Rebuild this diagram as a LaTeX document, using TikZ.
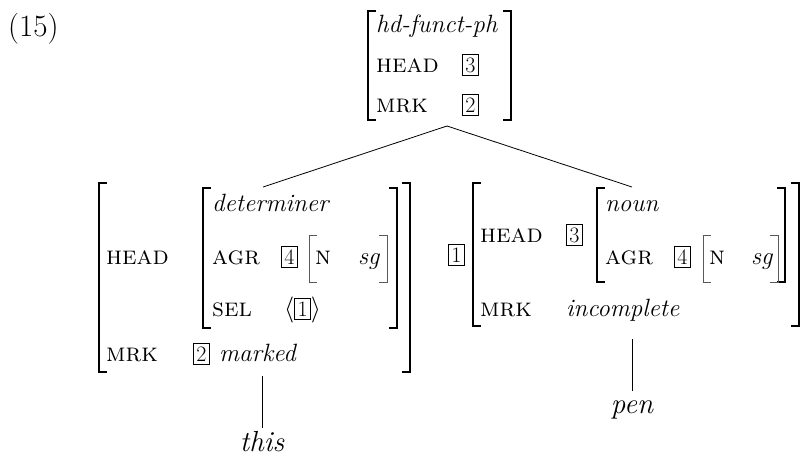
\documentclass[tikz,border=0pt]{standalone}
\usepackage{fix-cm}
\usepackage{fontspec}
\usetikzlibrary{positioning, calc}

% boxed tags and bracket helpers
\newcommand{\tagbox}[1]{{\setlength{\fboxsep}{2.5pt}\setlength{\fboxrule}{0.7pt}\fbox{\fontsize{22}{22}\selectfont #1}}}
\newcommand{\openbr}[4][brk]{\draw[#1] (#2,#3) ++(8,0) -- ++(-8,0) -- (#2,#4) -- ++(8,0);}
\newcommand{\closebr}[4][brk]{\draw[#1] (#2,#3) ++(-8,0) -- ++(8,0) -- (#2,#4) -- ++(-8,0);}

\tikzset{
    txt/.style={anchor=base west, inner sep=0pt, font=\fontsize{26}{30}\selectfont},
    val/.style={txt, font=\fontsize{25}{30}\selectfont\itshape},
    attr/.style={txt, font=\fontsize{26}{30}\selectfont\scshape},
    leaf/.style={anchor=base, inner sep=0pt, font=\fontsize{29}{34}\selectfont\itshape},
    brk/.style={line width=1.5pt},
    thinbrk/.style={line width=0.9pt, draw=black!65},
    branch/.style={line width=0.8pt}
}

\begin{document}
\begin{tikzpicture}[x=1pt, y=-1pt]
    \useasboundingbox (0,0) rectangle (801,459);

    % Example number
    \node[txt, font=\fontsize{31}{36}\selectfont] (exnum) at (8,36) {(15)};

    % Mother
    \node[val] (phrase) at (376,32) {hd-funct-ph};
    \node[attr] (mhead) at (376,72) {head};
    \node[txt] (mtag3) at (462,72) {\tagbox{3}};
    \node[attr] (mmrk) at (376,112) {mrk};
    \node[txt] (mtag2) at (462,112) {\tagbox{2}};
    \openbr{368}{11}{120}
    \closebr{511}{11}{120}
    \coordinate (mother) at (447,126);

    % Functor daughter
    \node[attr] (lhead) at (106,264) {head};
    \node[val] (det) at (212,211) {determiner};
    \node[attr] (lagr) at (212,264) {agr};
    \node[txt] (ltag4) at (281,264) {\tagbox{4}};
    \node[attr] (ln) at (315,264) {n};
    \node[val] (lsg) at (358,264) {sg};
    \node[attr] (lsel) at (212,316) {sel};
    \node[txt] (lsel1) at (284,316) {$\langle$\tagbox{1}$\rangle$};
    \node[attr] (lmrk) at (106,361) {mrk};
    \node[txt] (ltag2) at (193,361) {\tagbox{2}};
    \node[val] (marked) at (219,361) {marked};
    \openbr{99}{183}{372}
    \closebr{410}{183}{372}
    \openbr{203}{188}{328}
    \closebr{397}{188}{328}
    \openbr[thinbrk]{309}{235}{282}
    \closebr[thinbrk]{387}{235}{282}
    \coordinate (ldtr) at (263,187);
    \node[leaf] (this) at (262,451) {this};

    % Head daughter
    \node[txt] (rtag1) at (448,262) {\tagbox{1}};
    \node[attr] (rhead) at (480,242) {head};
    \node[txt] (rtag3) at (566,242) {\tagbox{3}};
    \node[val] (noun) at (605,211) {noun};
    \node[attr] (ragr) at (605,264) {agr};
    \node[txt] (rtag4) at (674,264) {\tagbox{4}};
    \node[attr] (rn) at (709,264) {n};
    \node[val] (rsg) at (751,264) {sg};
    \node[attr] (rmrk) at (480,316) {mrk};
    \node[val] (incompl) at (566,316) {incomplete};
    \openbr{473}{183}{326}
    \closebr{799}{183}{326}
    \openbr{597}{188}{282}
    \closebr{785}{188}{282}
    \openbr[thinbrk]{703}{235}{282}
    \closebr[thinbrk]{778}{235}{282}
    \coordinate (rdtr) at (632,187);
    \node[leaf] (pen) at (632,413) {pen};

    % Branches
    \draw[branch] (mother) -- (ldtr);
    \draw[branch] (mother) -- (rdtr);
    \draw[branch] (this.north) ++(0,-3) -- ++(0,-52);
    \draw[branch] (pen.north) ++(0,-9) -- ++(0,-52);
\end{tikzpicture}
\end{document}
